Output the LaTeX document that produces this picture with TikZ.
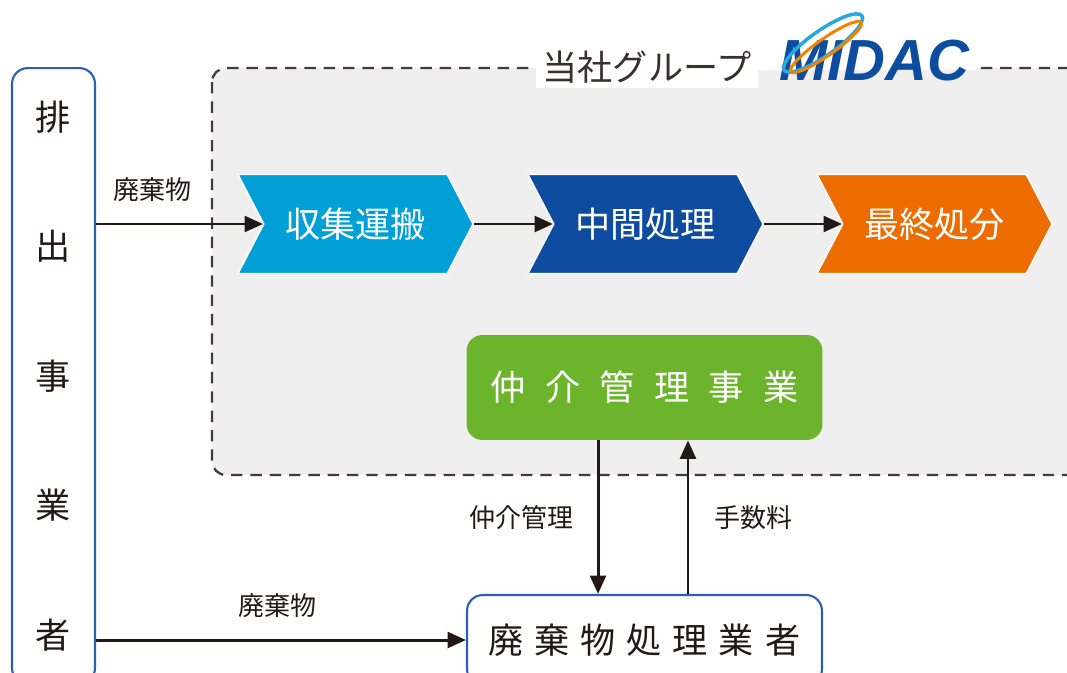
\documentclass[tikz,border=0pt]{standalone}
\usepackage{fontspec}
\usepackage{tikz}
\usetikzlibrary{positioning,shapes.symbols,arrows.meta}
\newfontfamily\jpfont{Noto Sans CJK JP}
\newfontfamily\logofont{Liberation Sans}
\definecolor{emitblue}{HTML}{2C5FB0}
\definecolor{collectcyan}{HTML}{00A0D7}
\definecolor{middlenavy}{HTML}{0D4C9F}
\definecolor{finalorange}{HTML}{EC6C00}
\definecolor{brokergreen}{HTML}{6CB42C}
\definecolor{groupgray}{HTML}{EFEFEF}
\definecolor{inkdark}{HTML}{231815}
\definecolor{ringcyan}{HTML}{29A8E0}
\definecolor{ringorange}{HTML}{F08300}

\begin{document}
\begin{tikzpicture}[x=0.02cm, y=-0.02cm,
  stage/.style={signal, signal to=east, signal from=west, signal pointer angle=125,
    minimum width=4.7cm, minimum height=1.98cm, inner sep=0pt, draw=white,
    line width=0.8pt, text=white, font=\jpfont\fontsize{20}{24}\selectfont},
  entity/.style={draw=emitblue, line width=1.2pt, rounded corners=9pt, fill=white,
    text=inkdark, font=\jpfont\fontsize{20}{24}\selectfont},
  flow/.style={-{Triangle[length=10.5pt,width=9pt]}, line width=1.7pt, draw=inkdark},
  flowtext/.style={inner sep=0pt, text=inkdark, font=\jpfont\fontsize{14.8}{18}\selectfont}]
  \useasboundingbox (0,0) rectangle (1067,672);
  \clip (0,0) rectangle (1067,672);
  % Draw the group area with its title
  \draw[fill=groupgray, draw=inkdark!85, line width=1.3pt, dash pattern=on 6.5pt off 4.5pt,
    rounded corners=8pt] (212,68) rectangle (1110,475);
  \fill[white] (757,62) rectangle (976,70);
  \node[fill=white, inner xsep=4pt, inner ysep=3pt, text=inkdark!90,
    font=\jpfont\fontsize{20}{24}\selectfont] (grouptitle) at (647,67) {当社グループ};
  \node[inner sep=0pt, text=middlenavy,
    font=\logofont\bfseries\itshape\fontsize{33}{36}\selectfont] (logo) at (874,61) {MIDAC};
  \draw[ringcyan, line width=2pt, rotate around={35:(823,43)}]
    (823,43) ellipse [x radius=0.95cm, y radius=0.25cm];
  \draw[ringorange, line width=1.7pt, rotate around={35:(826,47)}]
    (826,47) ellipse [x radius=0.86cm, y radius=0.17cm];
  % The emitter and the three stages
  \node[entity, minimum width=1.66cm, minimum height=12.32cm, align=center,
    font=\jpfont\fontsize{20}{73.7}\selectfont] (emitter) at (53.5,376) {排\\出\\事\\業\\者};
  \node[stage, fill=collectcyan] (collect) at (355.5,224) {収集運搬};
  \node[stage, fill=middlenavy] (middle) at (645.5,224) {中間処理};
  \node[stage, fill=finalorange] (final) at (934.5,224) {最終処分};
  % Brokerage and the processor
  \node[fill=brokergreen, rounded corners=9pt, minimum width=7.12cm, minimum height=2.1cm,
    text=white, font=\jpfont\fontsize{20}{24}\selectfont] (broker) at (644.5,387.5)
    {仲\hspace{.55em}介\hspace{.55em}管\hspace{.55em}理\hspace{.55em}事\hspace{.55em}業};
  \node[entity, minimum width=7.1cm, minimum height=1.8cm] (processor) at (644.5,640)
    {廃\hspace{.31em}棄\hspace{.31em}物\hspace{.31em}処\hspace{.31em}理\hspace{.31em}業\hspace{.31em}者};
  % Connect the flows
  \draw[flow] (emitter.east |- collect) -- (collect.west)
    node[flowtext, pos=0.34, above=12pt] {廃棄物};
  \draw[flow] (collect.east) -- (middle.west);
  \draw[flow] (middle.east) -- (final.west);
  \draw[flow] (emitter.east |- processor) -- (processor.west)
    node[flowtext, pos=0.49, above=12pt] {廃棄物};
  \draw[flow] ([xshift=-0.93cm]broker.south) -- ([xshift=-0.93cm]processor.north)
    node[flowtext, midway, left=13pt] {仲介管理};
  \draw[flow] ([xshift=0.87cm]processor.north) -- ([xshift=0.87cm]broker.south)
    node[flowtext, midway, right=14pt] {手数料};
\end{tikzpicture}
\end{document}
